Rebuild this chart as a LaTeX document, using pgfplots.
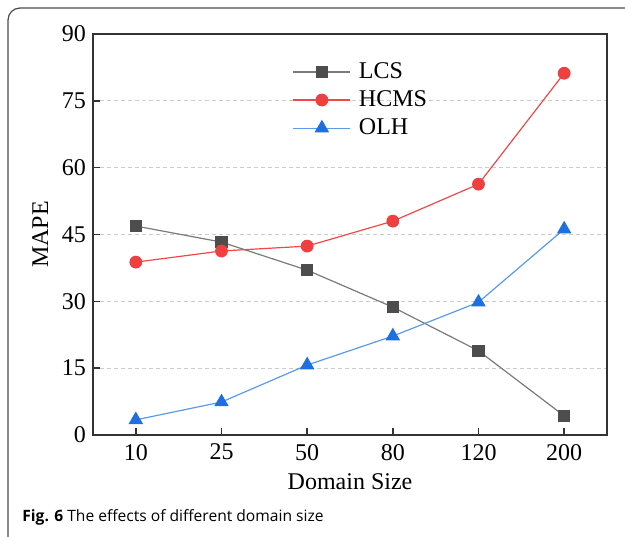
\documentclass[border=0pt]{standalone}
\usepackage{fontspec}
\setmainfont{Liberation Serif}
\newfontfamily\capfont{Open Sans}
\usepackage{pgfplots}
\pgfplotsset{compat=1.18}
\definecolor{lcsline}{HTML}{7A7A7A}
\definecolor{lcsmark}{HTML}{4D4D4D}
\definecolor{hcmsline}{HTML}{F04848}
\definecolor{hcmsmark}{HTML}{EE4040}
\definecolor{olhline}{HTML}{5A9AE8}
\definecolor{olhmark}{HTML}{1E6FE0}
\definecolor{axisc}{HTML}{333333}
\begin{document}
\begin{tikzpicture}
\begin{axis}[
  at={(46.5pt,50.5pt)}, anchor=south west,
  scale only axis, width=257pt, height=200.5pt,
  xmin=-0.5, xmax=5.5, ymin=0, ymax=90,
  xtick={0,1,2,3,4,5}, xticklabels={10,25,50,80,120,200},
  ytick={0,15,30,45,60,75,90},
  tick pos=left, tick align=inside, major tick length=3.5pt,
  axis line style={axisc, line width=0.8pt},
  every tick/.style={axisc, line width=0.8pt},
  ymajorgrids, grid style={dashed, dash pattern=on 2pt off 1.5pt, gray!40, line width=0.5pt},
  /pgf/number format/assume math mode=true,
  font=\fontsize{12}{14}\selectfont,
  tick label style={font=\fontsize{12}{14}\selectfont},
  xticklabel style={yshift=-1pt},
  xlabel={Domain Size}, ylabel={MAPE},
  label style={font=\fontsize{12}{14}\selectfont},
  legend style={draw=none, fill=none, at={(0.388,0.94)}, anchor=north west, font=\fontsize{12}{14}\selectfont, row sep=0.6pt, inner sep=0pt,
    nodes={inner xsep=4pt}},
  legend cell align=left,
  legend image code/.code={\draw[mark repeat=2,mark phase=2] plot coordinates {(0cm,0cm)(0.5cm,0cm)(1cm,0cm)};},
]
\addplot[lcsline, line width=0.6pt, mark=square*, mark size=2.8pt, mark options={draw=lcsmark, fill=lcsmark}]
  coordinates {(0,46.9) (1,43.3) (2,37.0) (3,28.7) (4,18.9) (5,4.3)};
\addlegendentry{LCS}
\addplot[hcmsline, line width=0.6pt, mark=*, mark size=2.9pt, mark options={draw=hcmsmark, fill=hcmsmark}]
  coordinates {(0,38.8) (1,41.3) (2,42.4) (3,48.0) (4,56.3) (5,81.2)};
\addlegendentry{HCMS}
\addplot[olhline, line width=0.6pt, mark=triangle*, mark size=3.6pt, mark options={draw=olhmark, fill=olhmark}]
  coordinates {(0,3.4) (1,7.4) (2,15.7) (3,22.2) (4,29.8) (5,46.2)};
\addlegendentry{OLH}
\end{axis}
\draw[gray!60!black, line width=0.6pt, rounded corners=6pt] (4pt,-20pt) rectangle (340pt,264pt);
\node[anchor=base west, inner sep=0pt, font=\fontsize{7.8}{9}\capfont] at (11pt,7.5pt) {\textbf{Fig. 6} The effects of different domain size};
\pgfresetboundingbox
\path[use as bounding box] (0,0) rectangle (312.5pt,268pt);
\end{tikzpicture}
\end{document}
